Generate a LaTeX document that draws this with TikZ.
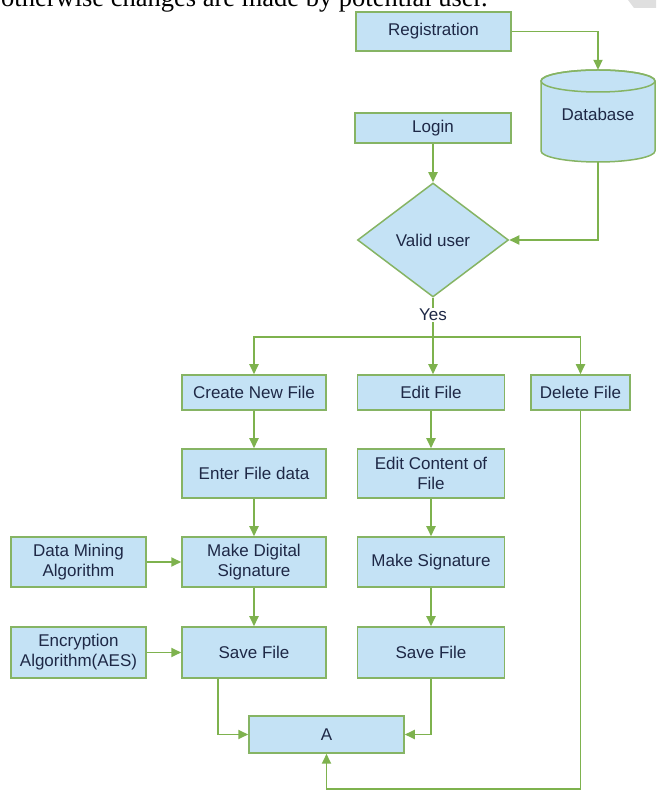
\documentclass[tikz,border=0pt]{standalone}
\usepackage{fontspec}
\setmainfont{Liberation Sans}
\newfontfamily\pageserif{Liberation Serif}
\usetikzlibrary{shapes.geometric,arrows.meta,backgrounds}
\definecolor{boxfill}{RGB}{196,226,245}
\definecolor{boxline}{RGB}{134,180,100}
\definecolor{arrowgreen}{RGB}{126,178,78}
\definecolor{textnavy}{RGB}{30,40,70}

\begin{document}
\begin{tikzpicture}[x=1pt,y=1pt,
    box/.style={rectangle, draw=boxline, fill=boxfill, line width=1.5pt, text=textnavy,
        align=center, inner sep=0pt, font=\fontsize{17}{20}\selectfont},
    arr/.style={draw=arrowgreen, line width=1.8pt, -{Triangle[length=10pt,width=9pt]}}]
    \clip (0,0) rectangle (656,791);
    \fill[gray!25] (628,791) -- (656,791) -- (656,783) -- (634,783) -- cycle;
    % Nodes
    \node[anchor=base west, inner sep=0pt, font=\pageserif\fontsize{26.5}{30}\selectfont] (pagetext) at (1,784) {otherwise changes are made by potential user.};
    \node[box, minimum width=155pt, minimum height=39pt] (reg) at (433.5,759.5) {Registration};
    \node[inner sep=0pt, minimum width=114pt, minimum height=92pt, text=textnavy, font=\fontsize{17}{20}\selectfont] (db) at (598,675) {\raisebox{3pt}{Database}};
    \node[box, minimum width=156pt, minimum height=30pt] (login) at (433,663) {Login};
    \node[box, diamond, aspect=1.32, minimum width=151pt, minimum height=114pt] (valid) at (433,551) {Valid user};
    \coordinate (split) at (433,454);
    \node[box, minimum width=144pt, minimum height=35pt] (create) at (254,398.5) {Create New File};
    \node[box, minimum width=147pt, minimum height=35pt] (edit) at (431,398.5) {Edit File};
    \node[box, minimum width=99pt, minimum height=35pt] (delete) at (580.5,398.5) {Delete File};
    \node[box, minimum width=144pt, minimum height=49pt] (enter) at (254,317.5) {Enter File data};
    \node[box, minimum width=147pt, minimum height=49pt] (editc) at (431,317.5) {Edit Content of\\File};
    \node[box, minimum width=135pt, minimum height=50pt] (dm) at (78.5,229) {Data Mining\\Algorithm};
    \node[box, minimum width=144pt, minimum height=50pt] (mds) at (254,229) {Make Digital\\Signature};
    \node[box, minimum width=147pt, minimum height=50pt] (ms) at (431,229) {Make Signature};
    \node[box, minimum width=135pt, minimum height=51pt] (enc) at (78.5,138.5) {Encryption\\Algorithm(AES)};
    \node[box, minimum width=144pt, minimum height=51pt] (save1) at (254,138.5) {Save File};
    \node[box, minimum width=147pt, minimum height=51pt] (save2) at (431,138.5) {Save File};
    \node[box, minimum width=155pt, minimum height=37pt] (A) at (326.5,56.5) {A};
    \coordinate (back) at (580.5,2);
    % Database cylinder
    \begin{scope}[on background layer]
        \filldraw[draw=boxline, fill=boxfill, line width=1.5pt] (541,710) -- (541,640)
            arc[start angle=180, end angle=360, x radius=57, y radius=11] -- (655,710)
            arc[start angle=0, end angle=180, x radius=57, y radius=11] -- cycle;
        \draw[boxline, line width=1.5pt] (598,710) ellipse [x radius=57, y radius=11];
    \end{scope}
    % Edges
    \draw[arr] (reg.east) -| (db.north);
    \draw[arr] (db.south) |- (valid.east);
    \draw[arr] (login) -- (valid);
    \draw[arr] (valid.south) -- (valid.south |- edit.north);
    \node[fill=white, inner sep=1pt, text=textnavy, font=\fontsize{17}{20}\selectfont] (yes) at (433,476) {Yes};
    \draw[arr] (split) -| (create);
    \draw[arr] (split) -| (delete);
    \draw[arr] (create) -- (enter);
    \draw[arr] (enter) -- (mds);
    \draw[arr] (mds) -- (save1);
    \draw[arr] (edit) -- (editc);
    \draw[arr] (editc) -- (ms);
    \draw[arr] (ms) -- (save2);
    \draw[arr] (dm) -- (mds);
    \draw[arr] (enc) -- (save1);
    \draw[arr] ([xshift=-36pt]save1.south) |- (A.west);
    \draw[arr] (save2.south) |- (A.east);
    \draw[arr] (delete.south) -- (back) -| (A.south);
\end{tikzpicture}
\end{document}
